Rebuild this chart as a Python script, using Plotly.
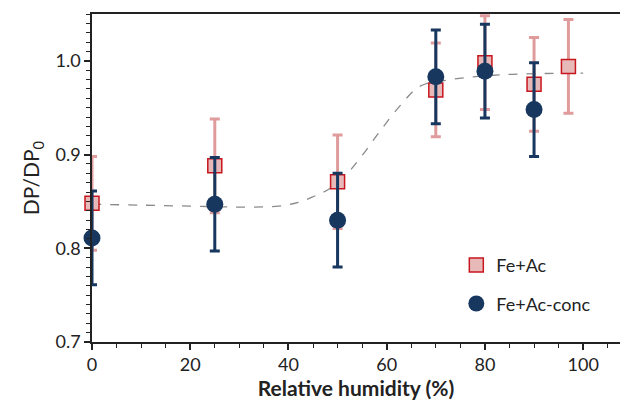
import plotly.graph_objects as go

rh_ac = [0, 25, 50, 70, 80, 90, 97]
dp_ac = [0.848, 0.888, 0.871, 0.969, 0.998, 0.975, 0.994]
err_ac = [0.05, 0.05, 0.05, 0.05, 0.05, 0.05, 0.05]

rh_conc = [0, 25, 50, 70, 80, 90]
dp_conc = [0.811, 0.847, 0.830, 0.983, 0.989, 0.948]
err_conc = [0.05, 0.05, 0.05, 0.05, 0.05, 0.05]

fit_x = [0, 10, 20, 30, 38, 42, 45, 48.5, 52, 55, 58.5, 62.7, 66.8, 73, 83, 100]
fit_y = [0.847, 0.846, 0.845, 0.844, 0.845, 0.849, 0.855, 0.864, 0.880, 0.899,
         0.924, 0.952, 0.973, 0.980, 0.985, 0.987]

font = "Lato"

fig = go.Figure()
fig.add_trace(go.Scatter(x=fit_x, y=fit_y, mode="lines", showlegend=False,
                         line=dict(color="#8a8a8a", width=1.3, dash="dash", shape="spline"),
                         hoverinfo="skip"))
fig.add_trace(go.Scatter(x=rh_ac, y=dp_ac, mode="markers", name="Fe+Ac",
                         legendgroup="a", cliponaxis=False,
                         marker=dict(symbol="square", size=14, color="#e8b9b9",
                                     line=dict(color="#c8161e", width=1.5)),
                         error_y=dict(type="data", array=err_ac, color="#e09c9c",
                                      thickness=3, width=5)))
fig.add_trace(go.Scatter(x=rh_conc, y=dp_conc, mode="markers", name="Fe+Ac-conc",
                         legendgroup="b", cliponaxis=False,
                         marker=dict(symbol="circle", size=17, color="#17375e"),
                         error_y=dict(type="data", array=err_conc, color="#17375e",
                                      thickness=3, width=5)))

fig.update_layout(
    width=620, height=400,
    margin=dict(l=92, r=0, t=14, b=58),
    plot_bgcolor="white", paper_bgcolor="white",
    font=dict(family=font, size=18, color="#222"),
    legend=dict(x=0.69, y=0.29, xanchor="left", yanchor="top",
                bgcolor="rgba(0,0,0,0)", font=dict(size=18, color="#222"),
                tracegroupgap=12, traceorder="grouped", itemwidth=30),
    xaxis=dict(range=[0, 107.5], tickmode="array", tickvals=[0, 20, 40, 60, 80, 100],
               showline=True, linecolor="#222", linewidth=1.5, mirror=True,
               ticks="outside", ticklen=6, tickwidth=1.5, tickcolor="#222",
               minor=dict(dtick=5, ticks="outside", ticklen=4, tickwidth=1.3, tickcolor="#222"),
               showgrid=False, zeroline=False,
               title=dict(text="<b>Relative humidity (%)</b>", font=dict(size=21), standoff=9)),
    yaxis=dict(range=[0.7, 1.05], tickmode="array", tickvals=[0.7, 0.8, 0.9, 1.0],
               ticktext=["0.7", "0.8", "0.9", "1.0"],
               showline=True, linecolor="#222", linewidth=1.5,
               ticks="outside", ticklen=6, tickwidth=1.5, tickcolor="#222",
               minor=dict(dtick=0.01, ticks="outside", ticklen=4, tickwidth=1.3, tickcolor="#222"),
               showgrid=False, zeroline=False,
               title=dict(text="DP/DP<sub>0</sub>", font=dict(size=21), standoff=10)),
)

fig.write_html("out.html")
